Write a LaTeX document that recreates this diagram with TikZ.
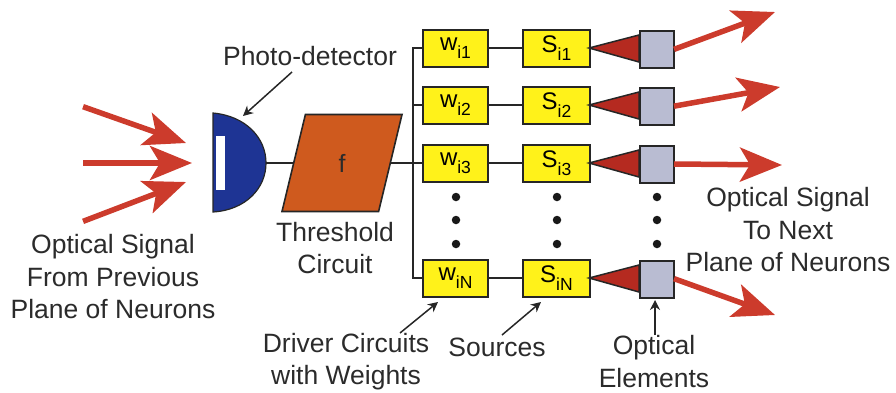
\documentclass[tikz,border=0pt]{standalone}
\usepackage{fontspec}
\setmainfont{Liberation Sans}
\usepackage{xcolor}
\usetikzlibrary{shapes.geometric,arrows.meta}
\definecolor{boxyellow}{HTML}{FFF21A}
\definecolor{lensgray}{HTML}{B9BCD2}
\definecolor{beamred}{HTML}{CC3B2C}
\definecolor{conered}{HTML}{B52A20}
\definecolor{detblue}{HTML}{1E3494}
\definecolor{threshorange}{HTML}{CF5A1E}
\definecolor{inktext}{HTML}{2B2B2B}
\newcommand{\subtxt}[2]{#1\raisebox{-8pt}{\fontsize{17.5}{17.5}\selectfont #2}}
\tikzset{
  label/.style={font=\fontsize{26.5}{32.5}\selectfont,text=inktext,align=center,inner sep=0pt},
  wire/.style={draw=black!85,line width=1.8pt},
  pointer/.style={draw=black!85,line width=1.5pt,-{Stealth[length=10pt,width=10pt]}},
  beam/.style={draw=beamred,line width=5.5pt,shorten <=-1pt,-{Stealth[length=42pt,width=34pt,inset=10pt]}},
  drive/.style={draw=black!85,line width=2pt,fill=boxyellow,minimum width=65pt,minimum height=37pt,inner sep=0pt,font=\fontsize{24}{24}\selectfont},
  lens/.style={draw=black!85,line width=2pt,fill=lensgray,minimum width=34pt,minimum height=37pt,inner sep=0pt},
  dotmark/.style={circle,fill=black!90,minimum size=8.5pt,inner sep=0pt}
}
\begin{document}
\begin{tikzpicture}[x=1pt,y=-1pt]
\useasboundingbox (0,0) rectangle (896,392);
% Entrada
\coordinate (in1) at (84,107);
\coordinate (in2) at (84,163);
\coordinate (in3) at (84,221);
\coordinate (det1) at (186,143);
\coordinate (det2) at (192,163);
\coordinate (det3) at (186,182);
\foreach \n in {1,2,3}
  \draw[beam] (in\n) -- (det\n);
% Detector
\draw[draw=black!85,line width=1.2pt,fill=detblue] (213,113) .. controls (246,116) and (266,138) .. (266,163) .. controls (266,188) and (246,210) .. (213,212) -- cycle;
\node[draw=none,fill=white,minimum width=9pt,minimum height=54pt,inner sep=0pt] (slit) at (220.5,163) {};
\coordinate (detout) at (266,163);
% Umbral
\node[trapezium,trapezium stretches=true,trapezium left angle=83,trapezium right angle=97,draw=black!85,line width=1.6pt,fill=threshorange,minimum width=120pt,minimum height=97pt,inner sep=0pt,font=\fontsize{25}{25}\selectfont,text=inktext] (circuit) at (342,163) {f};
\draw[wire] (detout) -- (circuit.west);
% Filas
\foreach \n/\y/\sub/\ex/\ey in {1/48/i1/775/12,2/105/i2/780/87,3/163/i3/782/165,4/278/iN/775/315}{
  \node[drive] (w\n) at (455.5,\y) {\subtxt{w}{\sub}};
  \node[drive,minimum width=67pt] (s\n) at (556.5,\y) {\raisebox{-2pt}{\subtxt{S}{\sub}}};
  \node[lens] (e\n) at (657,\y+1) {};
  \coordinate (out\n) at (\ex,\ey);
  \draw[wire] (w\n) -- (s\n);
  \draw[draw=black!85,line width=1.5pt,fill=conered] ([xshift=-2pt]s\n.east) -- (e\n.west |- 0,\y-13) -- (e\n.west |- 0,\y+14) -- cycle;
  \draw[beam] (e\n.east) -- (out\n);
}
% Bus
\draw[wire] (w1.west) -- (413,48) -- (413,278) -- (w4.west);
\draw[wire] (413,105) -- (w2.west);
\draw[wire] (circuit.east) -- (w3.west);
% Puntos
\foreach \x in {456,557,657}
  \foreach \y in {197,220,244}
    \node[dotmark] at (\x,\y) {};
% Textos
\node[label] (photolabel) at (310,56) {Photo-detector};
\node[label] (inlabel) at (113,277) {Optical Signal\\From Previous\\Plane of Neurons};
\node[label] (threshlabel) at (335,248) {Threshold\\Circuit};
\node[label] (driverlabel) at (346,361.5) {Driver Circuits\\with Weights};
\node[label] (sourcelabel) at (497,347) {Sources};
\node[label] (opticlabel) at (654,361.5) {Optical\\Elements};
\node[label] (outlabel) at (788,230) {Optical Signal\\To Next\\Plane of Neurons};
% Flechas
\coordinate (photofrom) at (292,72);
\coordinate (phototo) at (243,116);
\coordinate (driverfrom) at (400,333);
\coordinate (driverto) at (438,302);
\coordinate (sourcefrom) at (502,335);
\coordinate (sourceto) at (541,302);
\coordinate (opticfrom) at (655,335);
\coordinate (opticto) at (655,300);
\foreach \a/\b in {photofrom/phototo,driverfrom/driverto,sourcefrom/sourceto,opticfrom/opticto}
  \draw[pointer] (\a) -- (\b);
\end{tikzpicture}
\end{document}
